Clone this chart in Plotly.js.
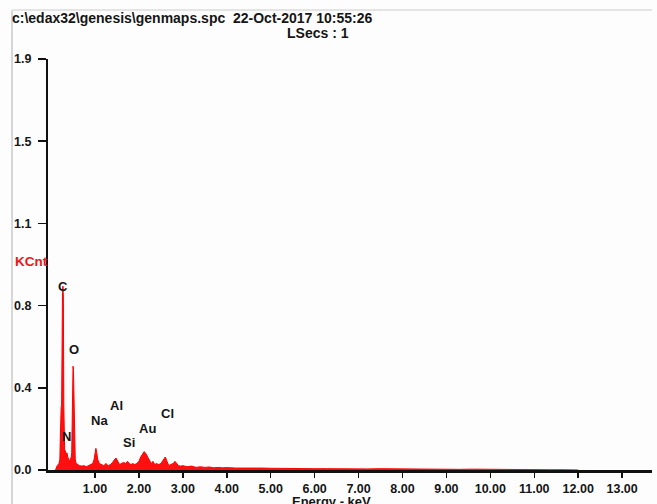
<!DOCTYPE html>
<html>
<head>
<meta charset="utf-8">
<script src="https://cdn.plot.ly/plotly-3.0.1.min.js"></script>
<style>html,body{margin:0;padding:0;background:#fdfdfd;}</style>
</head>
<body>
<div id="chart" style="width:657px;height:504px;"></div>
<script>
// Spectrum (energy in keV, counts in KCnt)
const energy = [0.10,0.14,0.18,0.20,0.21,0.22,0.23,0.24,0.25,0.26,0.27,0.28,0.29,0.30,0.31,0.32,0.34,0.36,0.38,0.40,0.42,0.44,0.46,0.47,0.48,0.49,0.50,0.51,0.52,0.53,0.54,0.55,0.57,0.60,0.65,0.70,0.75,0.80,0.85,0.90,0.95,0.98,1.00,1.02,1.04,1.06,1.10,1.15,1.20,1.25,1.30,1.35,1.40,1.45,1.48,1.52,1.56,1.60,1.65,1.70,1.74,1.78,1.82,1.86,1.90,1.95,2.00,2.04,2.08,2.12,2.16,2.20,2.24,2.28,2.32,2.36,2.40,2.45,2.50,2.55,2.60,2.64,2.68,2.72,2.78,2.82,2.86,2.90,2.95,3.00,3.10,3.20,3.30,3.40,3.50,3.60,3.70,3.80,3.90,4.00,4.20,4.40,4.60,4.80,5.00,5.20,5.40,5.60,5.80,6.00,6.30,6.60,6.90,7.20,7.50,7.80,8.10,8.40,8.70,9.00,9.30,9.60,9.90,10.20,10.50,10.80,11.10,11.40,11.70,12.00];
const kcnt = [0.00,0.02,0.03,0.05,0.15,0.28,0.29,0.30,0.80,0.82,0.85,0.80,0.30,0.15,0.08,0.09,0.06,0.08,0.06,0.05,0.04,0.05,0.06,0.08,0.28,0.30,0.48,0.46,0.30,0.29,0.12,0.05,0.03,0.025,0.02,0.018,0.02,0.015,0.02,0.025,0.03,0.05,0.09,0.10,0.08,0.05,0.03,0.025,0.02,0.03,0.02,0.025,0.035,0.05,0.055,0.04,0.025,0.03,0.035,0.03,0.04,0.03,0.025,0.03,0.025,0.03,0.04,0.06,0.075,0.085,0.075,0.06,0.05,0.03,0.04,0.025,0.03,0.025,0.03,0.045,0.06,0.04,0.02,0.025,0.03,0.04,0.03,0.02,0.018,0.02,0.015,0.018,0.012,0.015,0.012,0.014,0.01,0.012,0.01,0.011,0.009,0.01,0.008,0.009,0.008,0.007,0.008,0.006,0.007,0.006,0.006,0.005,0.006,0.005,0.006,0.005,0.004,0.005,0.004,0.004,0.003,0.004,0.003,0.003,0.002,0.002,0.002,0.001,0.001,0];

// Element peak labels
const elements = ['C','O','N','Na','Al','Si','Au','Cl'];
const elemX = [0.27,0.52,0.36,1.11,1.50,1.77,2.20,2.66];
const elemY = [0.85,0.555,0.157,0.23,0.30,0.125,0.194,0.259];

// Axis ticks
const yTickVals = [0,0.38,0.76,1.14,1.52,1.9];
const yTickText = ['0.0','0.4','0.8','1.1','1.5','1.9'];
const xTickVals = [1,2,3,4,5,6,7,8,9,10,11,12,13];
const xTickText = ['1.00','2.00','3.00','4.00','5.00','6.00','7.00','8.00','9.00','10.00','11.00','12.00','13.00'];

const FAM = 'Liberation Sans, Arial, sans-serif';
const tickFont = {family:FAM, size:12.5, color:'#151515', weight:'bold'};

const trace = {
  x: energy, y: kcnt, type:'scatter', mode:'lines',
  line:{color:'#ff0000', width:1}, fill:'tozeroy', fillcolor:'#ff1010',
  hoverinfo:'skip'
};

const annotations = elements.map((e,i)=>({
  x: elemX[i], y: elemY[i], xref:'x', yref:'y', text:'<b>'+e+'</b>', showarrow:false,
  font:{family:FAM, size:13, color:'#151515'}
}));
annotations.push({xref:'paper', yref:'paper', x:-35/604, y:(470-261)/411, xanchor:'left', yanchor:'middle',
  text:'<b>KCnt</b>', showarrow:false, font:{family:FAM, size:13.5, color:'#ee1515'}});
annotations.push({xref:'paper', yref:'paper', x:(285-48)/604, y:(470-33)/411, xanchor:'left', yanchor:'middle',
  text:'<b>LSecs : 1</b>', showarrow:false, font:{family:FAM, size:14, color:'#151515'}});
annotations.push({xref:'paper', yref:'paper', x:(331-48)/604, y:-32/411, xanchor:'center', yanchor:'middle',
  text:'<b>Energy - keV</b>', showarrow:false, font:{family:FAM, size:13, color:'#151515'}});

const layout = {
  width:657, height:504,
  margin:{l:48, r:5, t:59, b:34},
  paper_bgcolor:'#fdfdfd', plot_bgcolor:'#fdfdfd',
  showlegend:false,
  title:{text:'<b>c:\\edax32\\genesis\\genmaps.spc  22-Oct-2017 10:55:26</b>', x:12/657, xanchor:'left', xref:'container',
    y:1-18/504, yanchor:'middle', yref:'container',
    font:{family:FAM, size:14, color:'#151515'}},
  xaxis:{range:[-0.07,13.68], tickvals:xTickVals, ticktext:xTickText, ticks:'outside', ticklen:5, tickwidth:1.5, tickcolor:'#111',
    showline:true, linecolor:'#111', linewidth:2.5, showgrid:false, zeroline:false, tickfont:tickFont, fixedrange:true},
  yaxis:{range:[0,1.9], tickvals:yTickVals, ticktext:yTickText, ticks:'outside', ticklen:8, tickwidth:1.5, tickcolor:'#111',
    showline:true, linecolor:'#111', linewidth:2, showgrid:false, zeroline:false, tickfont:tickFont, ticklabelstandoff:4, fixedrange:true},
  annotations: annotations,
  shapes:[
    {type:'line', xref:'paper', yref:'paper', x0:-36/604, x1:-36/604, y0:-34/411, y1:(470-10)/411, line:{color:'#b0b0b0', width:1}},
    {type:'line', xref:'paper', yref:'paper', x0:-36/604, x1:1, y0:(470-10)/411, y1:(470-10)/411, line:{color:'#e4e4e4', width:2}}
  ]
};

Plotly.newPlot('chart', [trace], layout, {displayModeBar:false, staticPlot:true});
</script>
</body>
</html>
